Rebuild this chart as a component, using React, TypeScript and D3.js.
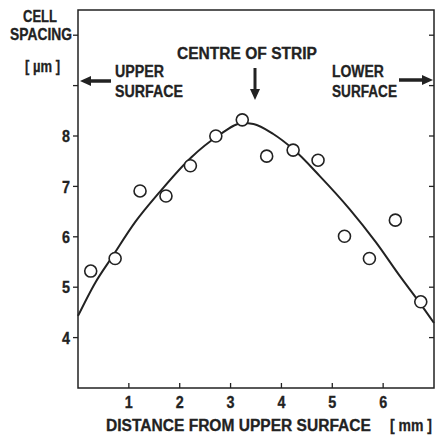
import React, { useEffect, useRef } from "react";
import * as d3 from "d3";

// measured points (distance mm, cell spacing um)
const pointX = [0.25, 0.73, 1.22, 1.73, 2.21, 2.71, 3.23, 3.71, 4.23, 4.72, 5.24, 5.73, 6.24, 6.74];
const pointY = [5.32, 5.57, 6.91, 6.81, 7.41, 8.0, 8.32, 7.6, 7.72, 7.52, 6.01, 5.57, 6.33, 4.71];

// fitted curve
const curveX = [0, 0.34, 0.67, 1.13, 1.59, 2.23, 2.75, 3.24, 3.45, 3.84, 4.23, 4.75, 5.34, 5.86, 6.33, 6.72, 7.0];
const curveY = [4.43, 5.09, 5.6, 6.3, 6.87, 7.58, 8.0, 8.26, 8.24, 8.04, 7.74, 7.21, 6.55, 5.89, 5.22, 4.69, 4.29];

const xTicks = [1, 2, 3, 4, 5, 6];
const yTicks = [4, 5, 6, 7, 8, 9, 10];
const yLabelled = [4, 5, 6, 7, 8];

const W = 436;
const H = 435;
const FONT = "'Liberation Sans', Arial, sans-serif";
const INK = "#222";
const FS = 16;

const App: React.FC = () => {
  const svgRef = useRef<SVGSVGElement | null>(null);

  useEffect(() => {
    if (!svgRef.current) return;
    const svg = d3.select(svgRef.current);
    svg.selectAll("*").remove();

    const left = 78;
    const right = 434;
    const top = 10;
    const bottom = 388;

    const x = d3.scaleLinear().domain([0, 7]).range([left, right]);
    const y = d3.scaleLinear().domain([3, 10.5]).range([bottom, top]);

    // frame
    svg
      .append("rect")
      .attr("x", left)
      .attr("y", top)
      .attr("width", right - left)
      .attr("height", bottom - top)
      .attr("fill", "none")
      .attr("stroke", INK)
      .attr("stroke-width", 1.5);

    // y ticks, left (outside) and right (inside)
    yTicks.forEach((t) => {
      svg
        .append("line")
        .attr("x1", left - 5)
        .attr("x2", left)
        .attr("y1", y(t))
        .attr("y2", y(t))
        .attr("stroke", INK)
        .attr("stroke-width", 1.3);
      svg
        .append("line")
        .attr("x1", right - 5)
        .attr("x2", right)
        .attr("y1", y(t))
        .attr("y2", y(t))
        .attr("stroke", INK)
        .attr("stroke-width", 1.3);
    });

    // condensed bold text: measure, then squeeze horizontally to the figure's width
    const label = (txt: string, tx: number, ty: number, len: number, anchor = "start") => {
      const t = svg
        .append("text")
        .attr("dy", "0.36em")
        .attr("text-anchor", anchor)
        .attr("font-family", FONT)
        .attr("font-weight", "bold")
        .attr("font-size", FS)
        .attr("fill", INK)
        .attr("stroke", INK)
        .attr("stroke-width", 0.3)
        .text(txt);
      const natural = (t.node() as SVGTextElement).getComputedTextLength() || len;
      const sx = len / natural;
      t.attr("transform", `translate(${tx},${ty}) scale(${sx},1.06)`);
      return t;
    };

    yLabelled.forEach((t) => label(String(t), 70, y(t), 8, "end"));

    // x ticks (inside)
    xTicks.forEach((t) => {
      svg
        .append("line")
        .attr("x1", x(t))
        .attr("x2", x(t))
        .attr("y1", bottom - 5)
        .attr("y2", bottom)
        .attr("stroke", INK)
        .attr("stroke-width", 1.3);
      label(String(t), x(t), 402, 8, "middle");
    });

    // curve
    const line = d3
      .line<number>()
      .x((d, i) => x(curveX[i]))
      .y((d) => y(d))
      .curve(d3.curveMonotoneX);

    svg
      .append("path")
      .attr("d", line(curveY))
      .attr("fill", "none")
      .attr("stroke", INK)
      .attr("stroke-width", 2);

    // points
    svg
      .selectAll(".pt")
      .data(pointY)
      .enter()
      .append("circle")
      .attr("class", "pt")
      .attr("cx", (d, i) => x(pointX[i]))
      .attr("cy", (d) => y(d))
      .attr("r", 6)
      .attr("fill", "#fff")
      .attr("stroke", INK)
      .attr("stroke-width", 1.6);

    label("CELL", 23, 16, 34);
    label("SPACING", 10, 34, 62);
    label("[ µm ]", 25, 66, 35);
    label("UPPER", 115, 71, 49);
    label("SURFACE", 115, 91, 68);
    label("CENTRE OF STRIP", 177, 53, 140);
    label("LOWER", 332, 71, 52);
    label("SURFACE", 332, 91, 65);
    label("DISTANCE FROM UPPER SURFACE", 106, 425, 265);
    label("[ mm ]", 390, 425, 42);

    // arrows
    const arrowHead = (tipX: number, tipY: number, dir: "left" | "right" | "down") => {
      const l = 11;
      const w = 5;
      let pts: [number, number][] = [];
      if (dir === "left") pts = [[tipX, tipY], [tipX + l, tipY - w], [tipX + l, tipY + w]];
      if (dir === "right") pts = [[tipX, tipY], [tipX - l, tipY - w], [tipX - l, tipY + w]];
      if (dir === "down") pts = [[tipX, tipY], [tipX - w, tipY - l], [tipX + w, tipY - l]];
      svg.append("polygon").attr("points", pts.map((p) => p.join(",")).join(" ")).attr("fill", INK);
    };

    svg.append("line").attr("x1", 86).attr("x2", 111).attr("y1", 81).attr("y2", 81).attr("stroke", INK).attr("stroke-width", 3.5);
    arrowHead(80, 81, "left");

    svg.append("line").attr("x1", 399).attr("x2", 425).attr("y1", 80).attr("y2", 80).attr("stroke", INK).attr("stroke-width", 3.5);
    arrowHead(433, 80, "right");

    svg.append("line").attr("x1", 255).attr("x2", 255).attr("y1", 68).attr("y2", 92).attr("stroke", INK).attr("stroke-width", 3);
    arrowHead(255, 100, "down");
  }, []);

  return (
    <svg
      ref={svgRef}
      width={W}
      height={H}
      style={{ position: "absolute", left: 0, top: 0, background: "#fff" }}
    />
  );
};

export default App;
